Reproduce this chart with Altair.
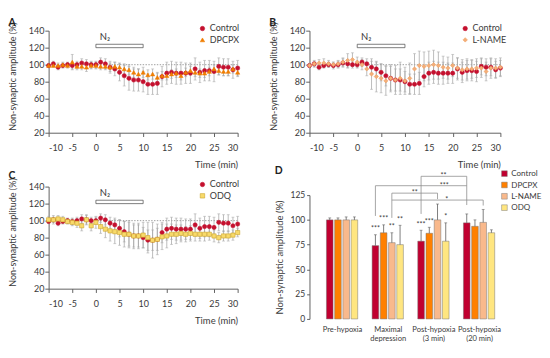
import altair as alt
import pandas as pd

# ---------------- data ----------------
times = list(range(-10, 31))

control_mean = [99, 101, 97, 99, 100, 99, 100, 102, 101, 100, 100,
                103, 101, 97, 95, 91, 87, 84, 82, 82, 80,
                77, 77, 78, 86, 90, 91, 90, 90, 90, 90,
                95, 91, 93, 93, 92, 98, 97, 97, 94, 96]
control_err = [2, 3, 3, 3, 3, 4, 4, 5, 5, 4, 4,
               5, 6, 7, 8, 10, 12, 14, 13, 13, 12,
               12, 12, 13, 12, 13, 13, 13, 13, 12, 12,
               13, 12, 12, 12, 12, 10, 10, 10, 10, 9]

dpcpx_mean = [99, 99, 99, 100, 99, 103, 98, 98, 97, 99, 99,
              98, 98, 97, 98, 97, 95, 94, 91, 89, 91,
              88, 89, 85, 87, 87, 89, 90, 87, 91, 93,
              91, 90, 90, 92, 95, 93, 92, 92, 95, 91]
dpcpx_err = [2, 2, 3, 3, 3, 9, 4, 4, 5, 4, 4,
             4, 4, 5, 5, 5, 6, 6, 6, 6, 6,
             6, 6, 5, 5, 5, 5, 5, 5, 5, 5,
             5, 5, 5, 5, 5, 5, 5, 5, 5, 5]

lname_mean = [99, 101, 102, 102, 101, 100, 101, 103, 105, 106, 103,
              100, 95, 89, 86, 84, 81, 84, 82, 84, 81,
              84, 95, 99, 98, 99, 100, 99, 97, 96, 99,
              96, 94, 95, 95, 96, 96, 92, 96, 96, 97]
lname_err = [2, 4, 4, 5, 4, 3, 4, 5, 8, 8, 6,
             6, 8, 18, 18, 17, 17, 16, 17, 19, 16,
             18, 18, 17, 17, 17, 17, 16, 13, 13, 13,
             12, 12, 12, 11, 11, 11, 11, 12, 11, 11]

odq_mean = [101, 101, 102, 101, 99, 98, 97, 94, 101, 94, 98,
            93, 90, 88, 87, 86, 84, 84, 82, 82, 83,
            80, 77, 78, 81, 82, 84, 84, 85, 84, 85,
            84, 84, 84, 84, 82, 80, 82, 82, 83, 86]
odq_err = [4, 5, 4, 4, 3, 4, 5, 6, 6, 6, 7,
           8, 10, 12, 14, 15, 15, 16, 15, 15, 15,
           18, 21, 18, 15, 14, 12, 11, 10, 9, 9,
           8, 8, 8, 7, 7, 6, 6, 6, 6, 5]

x_ticks = [-10, -5, 0, 5, 10, 15, 20, 25, 30]
y_ticks = [20, 40, 60, 80, 100, 120, 140]
baseline = [100]
n2_start, n2_end = [0], [10]
n2_lo, n2_hi = [120], [124]

groups = ["Pre-hypoxia", "Maximal\ndepression", "Post-hypoxia\n(3 min)", "Post-hypoxia\n(20 min)"]
series = ["Control", "DPCPX", "L-NAME", "ODQ"]
bar_mean = {"Control": [100, 74, 78.5, 97],
            "DPCPX": [100, 87, 86.5, 93.5],
            "L-NAME": [100, 77, 100, 97.5],
            "ODQ": [100, 75, 78.5, 87]}
bar_err = {"Control": [2, 11, 11, 9],
           "DPCPX": [2, 8, 6, 6.5],
           "L-NAME": [3, 10, 16, 13],
           "ODQ": [3, 19.5, 18.5, 3]}
bar_stars = {"Control": ["", "***", "***", ""],
             "DPCPX": ["", "***", "***", ""],
             "L-NAME": ["", "**", "", ""],
             "ODQ": ["", "**", "*", ""]}
d_ticks = [0, 25, 50, 75, 100, 125]

# brackets: (group1, series1, group2, series2, level, label, label position)
br_g1 = [2, 1, 1, 1]
br_s1 = [0, 0, 2, 2]
br_g2 = [3, 3, 2, 3]
br_s2 = [0, 0, 2, 2]
br_level = [144, 134.5, 127, 120]
br_label = ["**", "***", "**", "*"]
br_label_x = [2.22, 2.24, 1.59, 2.29]
# legs: (group, series, bottom, top)
leg_g = [1, 2, 3, 1, 2, 3]
leg_s = [0, 0, 0, 2, 2, 2]
leg_bottom = [104, 106, 115, 102, 121, 114.5]
leg_top = [134.5, 144, 144, 127, 127, 120]

# ---------------- style ----------------
FONT = "Lato"
TXT = "#3a3a3a"
AX = "#595959"
GREY = "#a8a8a8"
RED = "#c4102e"
bar_colors = ["#c00030", "#ff8000", "#f9b98c", "#ffe680"]


def time_panel(letter, name, mean, err, shape, fill, stroke, width, title_offset):
    rows = []
    for s, m, e in (("Control", control_mean, control_err), (name, mean, err)):
        for t, v, d in zip(times, m, e):
            rows.append({"t": t, "series": s, "v": v, "lo": v - d, "hi": v + d})
    df = pd.DataFrame(rows)
    n2 = pd.DataFrame({"start": n2_start, "end": n2_end, "lo": n2_lo, "hi": n2_hi})

    xaxis = alt.Axis(values=x_ticks, labelExpr="'' + datum.value", title="Time (min)",
                     titleAnchor="end", titlePadding=8, tickSize=4, labelPadding=7)
    yaxis = alt.Axis(values=y_ticks, title="Non-synaptic amplitude (%)", titlePadding=11,
                     tickSize=4, labelPadding=1, titleY=48, titleFontSize=9.5)
    xs = alt.Scale(domain=[-10, 30], nice=False, zero=False)
    ys = alt.Scale(domain=[20, 140], nice=False, zero=False)

    def X(f):
        return alt.X(f, type="quantitative", scale=xs, axis=xaxis)

    def Y(f):
        return alt.Y(f, type="quantitative", scale=ys, axis=yaxis)

    ref = alt.Chart(pd.DataFrame({"v": baseline})).mark_rule(
        color="#9a9a9a", strokeDash=[1.5, 1.5], strokeWidth=1).encode(y=Y("v"))
    rect = alt.Chart(n2).mark_rect(fill="white", stroke="#555", strokeWidth=0.8).encode(
        x=X("start"), x2="end", y=Y("lo"), y2="hi")
    n2txt = alt.Chart(n2).mark_text(text="N₂", align="left", baseline="alphabetic", dx=4, dy=-5,
                                   font=FONT, fontSize=10, color=TXT).encode(x=X("start"), y=Y("hi"))
    bars = alt.Chart(df).mark_rule(color=GREY, strokeWidth=0.8).encode(x=X("t"), y=Y("lo"), y2="hi")
    cap_lo = alt.Chart(df).mark_point(shape="stroke", size=9, color=GREY, strokeWidth=0.8).encode(
        x=X("t"), y=Y("lo"))
    cap_hi = alt.Chart(df).mark_point(shape="stroke", size=9, color=GREY, strokeWidth=0.8).encode(
        x=X("t"), y=Y("hi"))
    leg = alt.Legend(orient="none", legendX=width - 42, legendY=-7, title=None, labelFontSize=9.5,
                     symbolSize=22, rowPadding=1, labelOffset=3, symbolStrokeWidth=0.6)
    dom = ["Control", name]
    pts = alt.Chart(df).mark_point(filled=True, size=20, strokeWidth=0.6, opacity=1).encode(
        x=X("t"), y=Y("v"),
        color=alt.Color("series:N", scale=alt.Scale(domain=dom, range=[RED, fill]), legend=leg),
        shape=alt.Shape("series:N", scale=alt.Scale(domain=dom, range=["circle", shape]), legend=leg),
        stroke=alt.Stroke("series:N", scale=alt.Scale(domain=dom, range=[RED, stroke]), legend=None),
    )
    return alt.layer(ref, rect, n2txt, bars, cap_lo, cap_hi, pts).properties(
        width=width, height=108,
        title=alt.TitleParams(letter, anchor="start", frame="bounds", fontSize=11,
                              fontWeight="bold", offset=title_offset))


A = time_panel("A", "DPCPX", dpcpx_mean, dpcpx_err, "triangle-up", "#f07d00", "#f07d00", 200, -7)
B = time_panel("B", "L-NAME", lname_mean, lname_err, "diamond", "#f5ae78", "#eea060", 202, -7)
C = time_panel("C", "ODQ", odq_mean, odq_err, "square", "#f8da6a", "#c9a227", 200, -3)

# ---------------- panel D ----------------
rows = []
for si, s in enumerate(series):
    for gi in range(len(groups)):
        m, e = bar_mean[s][gi], bar_err[s][gi]
        rows.append({"g": gi, "s": si, "series": s, "mean": m, "top": m + e, "star": bar_stars[s][gi]})
bdf = pd.DataFrame(rows)
brdf = pd.DataFrame({"g1": br_g1, "s1": br_s1, "g2": br_g2, "s2": br_s2, "level": br_level,
                     "label": br_label, "lx": br_label_x})
legdf = pd.DataFrame({"g": leg_g, "s": leg_s, "bottom": leg_bottom, "top": leg_top})

label_expr = "[" + ",".join(
    "[" + ",".join("'" + w + "'" for w in g.split("\n")) + "]" for g in groups) + "][datum.value]"
dxs = alt.Scale(domain=[-0.61, 3.55], nice=False, zero=False)
dys = alt.Scale(domain=[0, 125], nice=False, zero=False)
dxaxis = alt.Axis(values=list(range(len(groups))), labelExpr=label_expr, domain=False, ticks=False,
                  title=None, labelFontSize=8, labelPadding=7, labelLineHeight=10,
                  labelOverlap=False)
dyaxis = alt.Axis(values=d_ticks, title="Non-synaptic amplitude (%)", titlePadding=6, tickSize=3,
                  labelPadding=2, labelFontSize=9)


def DX(f):
    return alt.X(f, type="quantitative", scale=dxs, axis=dxaxis)


def DY(f):
    return alt.Y(f, type="quantitative", scale=dys, axis=dyaxis)


POS = "datum.g + (datum.s - 1.5) * 0.18"
dleg = alt.Legend(orient="none", legendX=202, legendY=-27, title=None, symbolType="square",
                  symbolSize=36, labelFontSize=8.5, symbolStrokeColor="#777", symbolStrokeWidth=0.5,
                  rowPadding=3, labelOffset=3)
dbase = alt.Chart(bdf).transform_calculate(xpos=POS)
dbars = dbase.mark_bar(size=7, stroke="#707070", strokeWidth=0.5).encode(
    x=DX("xpos"), y=DY("mean"),
    color=alt.Color("series:N", scale=alt.Scale(domain=series, range=bar_colors), legend=dleg))
derr = dbase.mark_rule(color="#555", strokeWidth=0.8).encode(x=DX("xpos"), y=DY("mean"), y2="top")
dcap = dbase.mark_point(shape="stroke", size=9, color="#555", strokeWidth=0.8).encode(
    x=DX("xpos"), y=DY("top"))
dstar = dbase.mark_text(font=FONT, fontSize=7.5, color=TXT, dy=-4, baseline="alphabetic").encode(
    x=DX("xpos"), y=DY("top"), text="star:N")
bh = alt.Chart(brdf).transform_calculate(
    x1="datum.g1 + (datum.s1 - 1.5) * 0.18", x2="datum.g2 + (datum.s2 - 1.5) * 0.18"
).mark_rule(color="#8a8a8a", strokeWidth=0.8).encode(x=DX("x1"), x2="x2", y=DY("level"))
bl = alt.Chart(legdf).transform_calculate(xpos=POS).mark_rule(color="#8a8a8a", strokeWidth=0.8).encode(
    x=DX("xpos"), y=DY("bottom"), y2="top")
bt = alt.Chart(brdf).mark_text(font=FONT, fontSize=7.5, color=TXT, dy=2, baseline="alphabetic").encode(
    x=DX("lx"), y=DY("level"), text="label:N")

D = alt.layer(dbars, derr, dcap, dstar, bh, bl, bt).properties(
    width=211, height=131,
    title=alt.TitleParams("D", anchor="start", frame="bounds", fontSize=11, fontWeight="bold", offset=-7))


def res(c):
    return c.resolve_scale(x="independent", y="independent", color="independent",
                           shape="independent", stroke="independent").resolve_legend(
        color="independent", shape="independent")


left = res(alt.vconcat(A, C, spacing=57, bounds="flush"))
right = res(alt.vconcat(B, D, spacing=66, bounds="flush"))
chart = res(alt.hconcat(left, right, spacing=29)).properties(padding=0).configure_view(
    stroke=None
).configure_axis(
    grid=False, domainColor=AX, tickColor=AX, labelColor=TXT, titleColor=TXT, labelFont=FONT,
    titleFont=FONT, labelFontSize=9.5, titleFontSize=10, titleFontWeight="normal"
).configure_legend(labelFont=FONT, labelColor=TXT).configure_title(font=FONT, color="#222")

chart.save("out.html", embed_options={"renderer": "svg", "actions": False})
